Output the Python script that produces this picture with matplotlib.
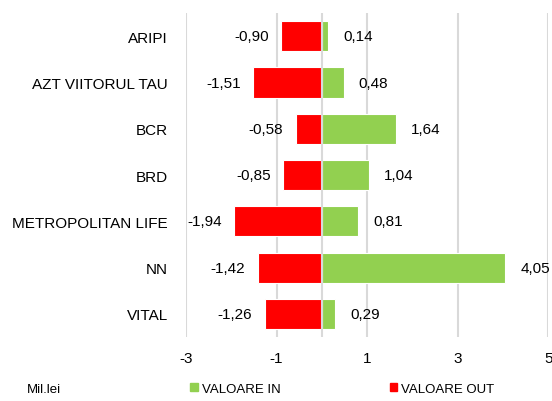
import numpy as np
import matplotlib
matplotlib.use("Agg")
import matplotlib.pyplot as plt
import matplotlib.ticker as plticker
from matplotlib.patches import Patch

plt.rcParams['font.family'] = ['Liberation Sans', 'DejaVu Sans']
plt.rcParams['axes.unicode_minus'] = False

categories = ["ARIPI", "AZT VIITORUL TAU", "BCR", "BRD",
              "METROPOLITAN LIFE", "NN", "VITAL"]
valoare_in = [0.14, 0.48, 1.64, 1.04, 0.81, 4.05, 0.29]
valoare_out = [-0.90, -1.51, -0.58, -0.85, -1.94, -1.42, -1.26]

GREEN = '#92D050'
RED = '#FF0000'
GRID = '#d9d9d9'

fig = plt.figure(figsize=(5.52, 4.02), dpi=100)
ax = fig.add_axes([0.337, 0.159, 0.656, 0.806])

y = np.arange(len(categories))
ax.barh(y, valoare_out, height=0.65, color=RED, edgecolor='white', linewidth=0.8, zorder=3)
ax.barh(y, valoare_in, height=0.65, color=GREEN, edgecolor='white', linewidth=0.8, zorder=3)

def fmt(v):
    return f"{v:.2f}".replace('.', ',')

for yi, v in zip(y, valoare_in):
    ax.annotate(fmt(v), (v, yi), xytext=(11, 0), textcoords='offset points',
                ha='left', va='center', fontsize=11)
for yi, v in zip(y, valoare_out):
    ax.annotate(fmt(v), (v, yi), xytext=(-9, 0), textcoords='offset points',
                ha='right', va='center', fontsize=11)

ax.set_xlim(-3, 5)
ax.set_ylim(len(categories) - 0.5, -0.5)
ax.xaxis.set_major_locator(plticker.FixedLocator([-3, -1, 1, 3, 5]))
ax.set_yticks(y)
ax.set_yticklabels(categories)
ax.tick_params(axis='both', length=0, labelsize=11)
ax.tick_params(axis='x', pad=10)
ax.tick_params(axis='y', pad=13)
for s in ax.spines.values():
    s.set_visible(False)
ax.grid(axis='x', color=GRID, linewidth=1.5, zorder=0)
ax.axvline(0, color=GRID, linewidth=1.5, zorder=4)

handles = [Patch(color=GREEN, label='VALOARE IN'),
           Patch(color=RED, label='VALOARE OUT')]
fig.legend(handles=handles, loc='center', bbox_to_anchor=(0.62, 0.03), ncol=2,
           frameon=False, fontsize=9.5, handlelength=0.55, handleheight=0.55,
           handletextpad=0.3, columnspacing=8.3)
fig.text(0.049, 0.03, 'Mil.lei', fontsize=9.5, ha='left', va='center')

fig.savefig('out.png', dpi=100)
